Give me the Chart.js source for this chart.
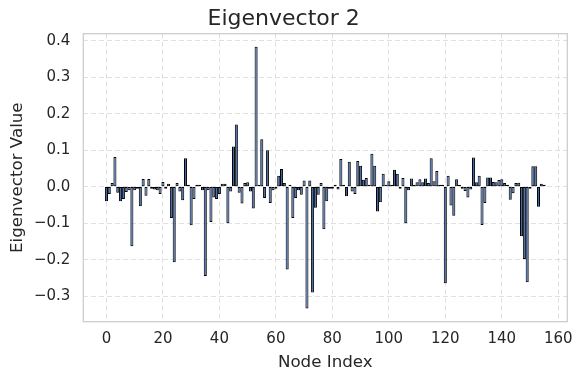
<!DOCTYPE html>
<html>
<head>
<meta charset="utf-8">
<script src="https://cdn.jsdelivr.net/npm/chart.js@4.4.1/dist/chart.umd.min.js"></script>
<style>
  html, body { margin: 0; padding: 0; background: #fff; }
  canvas { display: block; }
</style>
</head>
<body>
<canvas id="chart" width="583" height="384"></canvas>
<script>
const chartTitle = 'Eigenvector 2';
const xLabel = 'Node Index';
const yLabel = 'Eigenvector Value';

const xTicks = [0, 20, 40, 60, 80, 100, 120, 140, 160];
const yTicks = [-0.3, -0.2, -0.1, 0.0, 0.1, 0.2, 0.3, 0.4];

// one value per node, index 0..155
const nodeValues = [
  -0.040, -0.020, 0.010, 0.081, -0.017, -0.040, -0.034, -0.015, -0.010, -0.163,
  -0.010, -0.005, -0.054, 0.021, -0.025, 0.021, -0.005, -0.008, -0.010, -0.020,
  0.013, -0.005, 0.008, -0.086, -0.207, 0.010, -0.013, -0.037, 0.078, 0.002,
  -0.106, -0.034, 0.003, 0.003, -0.010, -0.245, -0.010, -0.097, -0.030, -0.034,
  -0.020, 0.008, 0.008, -0.100, -0.013, 0.110, 0.170, -0.017, -0.046, 0.010,
  0.012, -0.013, -0.060, 0.383, 0.005, 0.130, -0.031, 0.100, -0.045, -0.010,
  -0.005, 0.030, 0.048, 0.010, -0.227, 0.005, -0.086, -0.031, -0.010, -0.022,
  0.017, -0.334, 0.017, -0.290, -0.058, -0.022, 0.010, -0.117, -0.040, -0.005,
  -0.005, 0.003, -0.008, 0.076, 0.001, -0.026, 0.068, -0.013, -0.020, 0.070,
  0.057, 0.019, 0.024, 0.002, 0.090, 0.057, -0.068, -0.043, 0.035, 0.003,
  0.015, 0.002, 0.046, 0.035, -0.003, 0.024, -0.100, -0.010, 0.022, 0.001,
  0.012, 0.020, 0.012, 0.022, 0.010, 0.078, 0.015, 0.043, 0.002, 0.001,
  -0.265, 0.030, -0.052, -0.080, 0.020, 0.005, -0.003, -0.012, -0.030, -0.008,
  0.080, 0.012, 0.030, -0.105, -0.045, 0.025, 0.025, 0.013, 0.012, 0.018,
  0.020, 0.010, 0.005, -0.036, -0.018, 0.010, 0.011, -0.136, -0.198, -0.262,
  -0.005, 0.056, 0.056, -0.055, 0.008, 0.003
];

const textColor = '#262626';
const gridColor = '#dddddd';

Chart.defaults.font.family = "'DejaVu Sans', sans-serif";

// matplotlib-like spines round the plot area
const frame = {
  id: 'frame',
  afterDraw(chart) {
    const { ctx, chartArea: a } = chart;
    ctx.save();
    ctx.strokeStyle = '#cccccc';
    ctx.lineWidth = 1.25;
    ctx.strokeRect(a.left, a.top, a.right - a.left, a.bottom - a.top);
    ctx.restore();
  },
};

function zeroPaddings(axis) {
  axis.paddingLeft = 0;
  axis.paddingRight = 0;
  axis.paddingTop = 0;
  axis.paddingBottom = 0;
}

function fmtY(v) {
  if (Math.abs(v) < 1e-9) return '0.0';
  return (v < 0 ? '\u2212' : '') + Math.abs(v).toFixed(1);
}

new Chart(document.getElementById('chart'), {
  type: 'bar',
  data: {
    datasets: [{
      label: yLabel,
      data: nodeValues.map((v, i) => ({ x: i, y: v })),
      backgroundColor: '#3f64a6',
      borderColor: '#000000',
      borderWidth: 1,
      borderSkipped: false,
      barPercentage: 1.08,
      categoryPercentage: 1,
      minBarLength: 2,
    }],
  },
  options: {
    responsive: false,
    animation: false,
    devicePixelRatio: 1,
    layout: { padding: { left: 0, right: 15.7, top: 0, bottom: 0 } },
    plugins: {
      legend: { display: false },
      tooltip: { enabled: false },
      title: {
        display: true,
        text: chartTitle,
        color: textColor,
        font: { size: 22, weight: 'normal' },
        padding: { top: 6, bottom: 1.3 },
      },
    },
    scales: {
      x: {
        type: 'linear',
        offset: false,
        min: -8.2,
        max: 163.2,
        afterBuildTicks: (axis) => { axis.ticks = xTicks.map((v) => ({ value: v })); },
        afterFit: (axis) => { axis.height = 62.3; zeroPaddings(axis); },
        grid: { color: gridColor, lineWidth: 0.9, drawTicks: false, offset: false },
        border: { display: false, dash: [5, 3] },
        ticks: { color: textColor, font: { size: 15 }, padding: 8, maxRotation: 0, callback: (v) => String(v) },
        title: { display: true, text: xLabel, color: textColor, font: { size: 16.7 }, padding: { top: 0, bottom: 11 } },
      },
      y: {
        min: -0.37,
        max: 0.419,
        afterBuildTicks: (axis) => { axis.ticks = yTicks.map((v) => ({ value: v })); },
        afterFit: (axis) => { axis.width = 83.3; zeroPaddings(axis); },
        grid: { color: gridColor, lineWidth: 0.9, drawTicks: false },
        border: { display: false, dash: [5, 3] },
        ticks: { color: textColor, font: { size: 15 }, padding: 13, callback: (v) => fmtY(v) },
        title: { display: true, text: yLabel, color: textColor, font: { size: 16.7 }, padding: { top: 7.5, bottom: 0 } },
      },
    },
  },
  plugins: [frame],
});
</script>
</body>
</html>
